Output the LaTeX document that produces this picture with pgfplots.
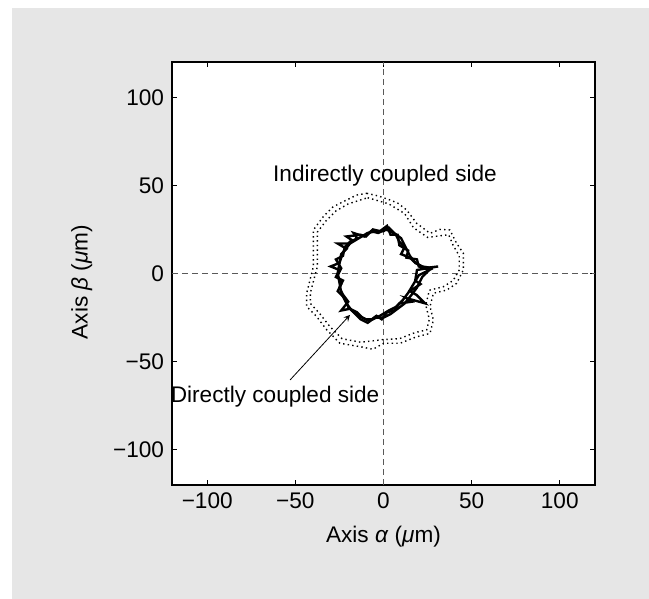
\documentclass[border=0pt]{standalone}
\usepackage{fontspec}
\setmainfont{Liberation Sans}
\usepackage{pgfplots}
\pgfplotsset{compat=1.18}
\definecolor{panel}{HTML}{E6E6E6}

\begin{document}
\fontsize{11.3}{13.5}\selectfont
\begin{tikzpicture}
\useasboundingbox (-86pt,-57pt) rectangle (238.5pt,242.5pt);
\fill[white] (-86pt,-57pt) rectangle (238.5pt,242.5pt);
\fill[panel] (-80pt,-57pt) rectangle (238.5pt,238.5pt);
\begin{axis}[scale only axis,width=211.5pt,height=211.5pt,
  xmin=-120,xmax=120,ymin=-120,ymax=120,
  axis background/.style={fill=white},
  axis line style={line width=0.6pt},
  tick align=inside,major tick length=2.5pt,
  tick style={black,line width=0.5pt},
  xtick={-100,-50,0,50,100},xticklabels={−100,−50,0,50,100},
  ytick={-100,-50,0,50,100},yticklabels={−100,−50,0,50,100},
  tick label style={font=\fontsize{11.3}{13.5}\selectfont},
  xlabel={Axis \textit{α} (\textit{μ}m)},
  ylabel={Axis \textit{β} (\textit{μ}m)},
  label style={font=\fontsize{11.3}{13.5}\selectfont},
  xlabel style={at={(axis description cs:0.5,-0.123)},anchor=center},
  ylabel style={at={(axis description cs:-0.213,0.48)},anchor=center}]

% zero reference lines
\addplot[gray!70!black,dash pattern=on 3pt off 2pt,line width=0.5pt] coordinates {(-120,0) (120,0)};
\addplot[gray!70!black,dash pattern=on 3pt off 2pt,line width=0.5pt] coordinates {(0,-120) (0,120)};

% indirectly coupled side (dotted)
\addplot[black,line width=0.7pt,dash pattern=on 0.7pt off 1.6pt] coordinates {
(-9.5,45.5) (-3,44) (3.7,41.7) (8,40) (13.2,36) (18.8,28.5) (26.4,22.8) (32,25)
(37.7,24.7) (41.5,17.1) (45.3,11.5) (45.3,2) (41.5,-5.6) (35.9,-9.4) (28.3,-11.2)
(26.4,-18.8) (28.3,-26.4) (26.4,-34) (18.8,-35.9) (9.4,-39.6) (0,-39.6) (-6,-43)
(-13.3,-41.5) (-24.7,-39.6) (-32.2,-32) (-37.9,-24.5) (-43.6,-18.8) (-43.6,-11.2)
(-41.7,-3.7) (-39.8,3.9) (-39.8,15.2) (-39.8,24.7) (-34.2,32.2) (-28.5,37.9)
(-20.9,41.7) (-15.2,44.5) (-9.5,45.5)};
\addplot[black,line width=0.7pt,dash pattern=on 0.7pt off 1.6pt] coordinates {
(-9,43) (3,39.5) (12,34) (17,26) (25,20.5) (37,22) (39.5,16) (43,10) (43,2)
(39.5,-4) (34,-7.5) (26,-9.5) (24,-18) (26,-26) (24.5,-32) (18,-33.5) (9,-37)
(0,-37.5) (-13,-39) (-23.5,-37) (-30.5,-30) (-36,-23) (-41.5,-17) (-41.5,-11)
(-39.5,-3.5) (-37.5,4) (-37.5,15) (-37.5,23.5) (-32.5,30) (-27,35.5) (-20,39.5) (-9,43)};

% directly coupled side (solid)
\addplot[black,line width=1.2pt] coordinates {
(31,4) (19,2) (18,-4) (21,-6) (15,-10) (18.8,-12.2) (23.5,-16.9) (13,-14) (16,-16)
(9,-17) (6,-21) (2,-22) (-1,-26) (-4,-24) (-8,-27) (-12,-25) (-15,-22) (-19,-20)
(-24,-21) (-20,-16) (-23,-12) (-25,-8) (-23,-4) (-27,-2) (-25,2) (-30,4) (-25,6)
(-24,11) (-21,14) (-26,17) (-20,17) (-15,20) (-17,23) (-11,21) (-7,24) (-3,23)
(1,25) (4,24) (7,22) (9,18) (12,15) (10,11) (15,9) (17,7) (23,3) (31,4)};
\addplot[black,line width=1.2pt] coordinates {
(28,3) (20,-1) (17,-6) (14,-11) (11,-15) (7,-19) (3,-21) (-2,-24) (-6,-26)
(-10,-26) (-14,-24) (-18,-21) (-21,-17) (-24,-11) (-25,-5) (-26,0) (-25,6)
(-23,12) (-19,17) (-14,20) (-9,23) (-4,24) (0,24) (3,26) (6,23) (10,20) (13,14)
(15,10) (18,6) (22,4) (28,3)};
\addplot[black,line width=1.2pt] coordinates {
(26,2) (22,-2) (19,-8) (16,-12) (12,-17) (8,-20) (4,-23) (0,-25) (-5,-25)
(-9,-28) (-13,-26) (-16,-23) (-20,-19) (-22,-14) (-26,-10) (-24,-6) (-26,-1)
(-24,3) (-27,8) (-23,10) (-22,15) (-18,19) (-21,21) (-13,22) (-10,21) (-6,25)
(-2,24) (2,27) (4,22) (8,22) (9,16) (14,13) (13,9) (19,8) (20,4) (26,2)};

\node at (axis cs:0.85,55.3) {Indirectly coupled side};
\node at (axis cs:-61.5,-70) {Directly coupled side};
\draw[->,>=stealth,line width=0.4pt] (axis cs:-53,-60.4) -- (axis cs:-19,-23.5);
\end{axis}
\end{tikzpicture}
\end{document}
